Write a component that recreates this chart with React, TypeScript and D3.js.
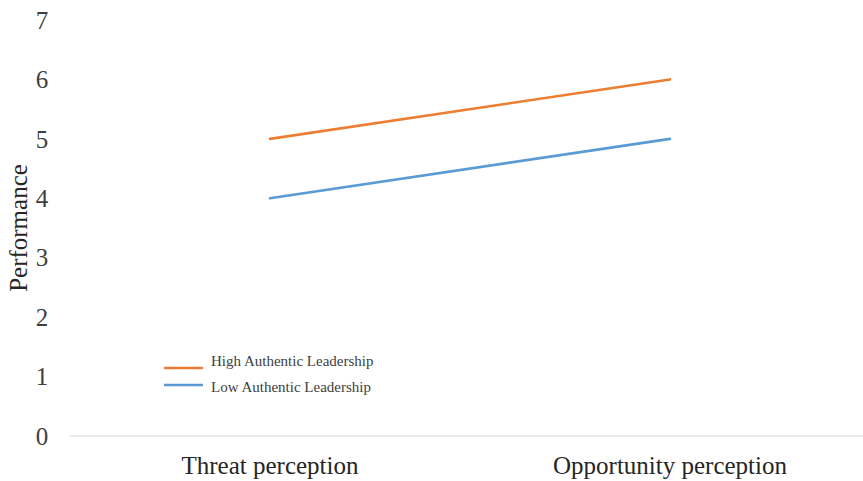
import React from "react";
import * as d3 from "d3";

const categories = ["Threat perception", "Opportunity perception"];
const seriesNames = ["High Authentic Leadership", "Low Authentic Leadership"];
const highValues = [5, 6];
const lowValues = [4, 5];
const yTicks = [0, 1, 2, 3, 4, 5, 6, 7];
const colors = ["#ED7D31", "#5B9BD5"];

const W = 863;
const H = 481;

export default function App() {
  const x = d3.scaleBand<string>().domain(categories).range([70, 870]);
  const y = d3.scaleLinear().domain([0, 7]).range([436, 20]);
  const line = d3
    .line<number>()
    .x((_, i) => (x(categories[i]) as number) + x.bandwidth() / 2)
    .y((d) => y(d));
  const series = [highValues, lowValues];
  const font = "'Liberation Serif', 'Times New Roman', serif";
  const legendLineY = [368, 385];
  const legendTextY = [366, 392];
  return (
    <svg
      width={W}
      height={H}
      style={{ position: "absolute", left: 0, top: 0, background: "#fff" }}
      fontFamily={font}
    >
      <line x1={70} x2={W} y1={y(0)} y2={y(0)} stroke="#d9d9d9" strokeWidth={1.2} />
      {yTicks.map((t) => (
        <text key={t} x={42} y={y(t)} dy="0.35em" textAnchor="middle" fontSize={25} fill="#404040">
          {t}
        </text>
      ))}
      {categories.map((c) => (
        <text
          key={c}
          x={(x(c) as number) + x.bandwidth() / 2}
          y={474}
          textAnchor="middle"
          fontSize={25}
          fill="#262626"
        >
          {c}
        </text>
      ))}
      <text
        transform={`translate(27,${228}) rotate(-90)`}
        textAnchor="middle"
        fontSize={25}
        fill="#262626"
      >
        Performance
      </text>
      {series.map((s, i) => (
        <path key={i} d={line(s) || ""} fill="none" stroke={colors[i]} strokeWidth={2.6} strokeLinecap="round" />
      ))}
      {seriesNames.map((n, i) => (
        <g key={n}>
          <line x1={164} x2={203} y1={legendLineY[i]} y2={legendLineY[i]} stroke={colors[i]} strokeWidth={2.6} />
          <text x={211} y={legendTextY[i]} fontSize={15} fill="#404040">
            {n}
          </text>
        </g>
      ))}
    </svg>
  );
}
